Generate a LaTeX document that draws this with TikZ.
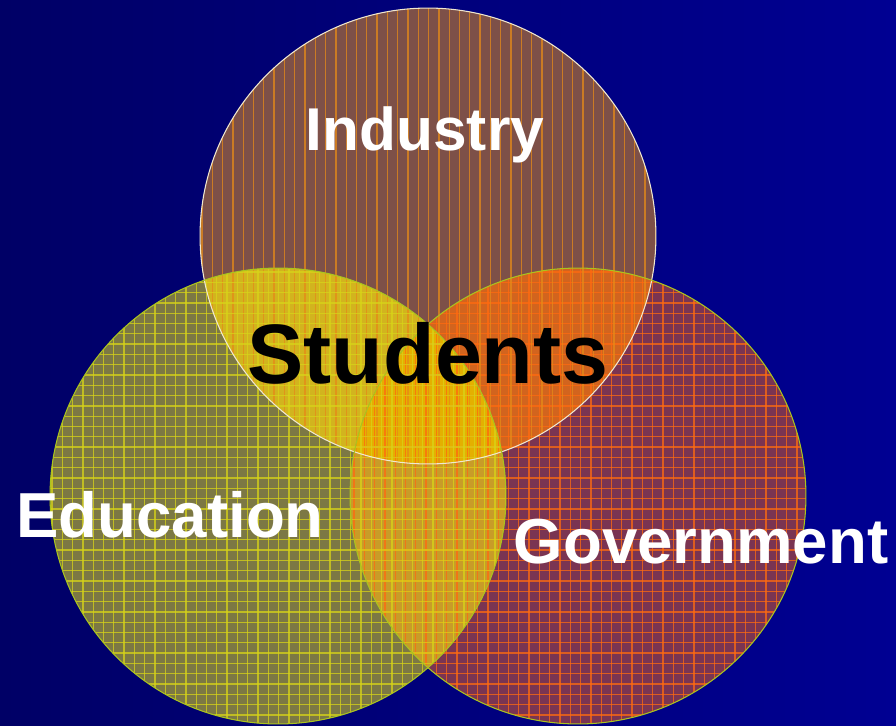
\documentclass[tikz,border=0pt]{standalone}
\usepackage{fontspec}
\setmainfont{Liberation Sans}
\definecolor{bgleft}{RGB}{0,0,102}
\definecolor{bgright}{RGB}{0,0,146}
\definecolor{indfill}{RGB}{125,80,72}
\definecolor{edufill}{RGB}{124,120,68}
\definecolor{govfill}{RGB}{122,52,82}
\definecolor{indedu}{RGB}{210,180,30}
\definecolor{indgov}{RGB}{210,100,30}
\definecolor{edugov}{RGB}{200,156,40}
\definecolor{allfill}{RGB}{228,176,0}
\definecolor{indline}{RGB}{230,138,24}
\definecolor{eduline}{RGB}{216,212,24}
\definecolor{govline}{RGB}{255,106,16}
\definecolor{rimind}{RGB}{240,232,208}
\definecolor{rimyel}{RGB}{170,196,30}
\begin{document}
\begin{tikzpicture}[x=0.02cm,y=-0.02cm,
	hatch/.style={line width=0.75pt,draw opacity=0.75},
	sector/.style={inner sep=0pt,anchor=base,text=white,font=\bfseries\fontsize{36.2}{36}\selectfont}]
	\useasboundingbox (0,0) rectangle (896,725);
	\shade[left color=bgleft,right color=bgright] (0,0) rectangle (896,725);
	\def\ind{(428,236) circle (4.56cm)}
	\def\edu{(278,496) circle (4.56cm)}
	\def\gov{(578,496) circle (4.56cm)}
	% plain fills
	\fill[indfill] \ind;
	\fill[edufill] \edu;
	\fill[govfill] \gov;
	% overlaps
	\begin{scope}
		\clip \ind;
		\fill[indedu] \edu;
		\fill[indgov] \gov;
	\end{scope}
	\begin{scope}
		\clip \edu;
		\fill[edugov] \gov;
	\end{scope}
	\begin{scope}
		\clip \ind;
		\clip \edu;
		\fill[allfill] \gov;
	\end{scope}
	% stripes and grids
	\begin{scope}
		\clip \gov;
		\foreach \k in {0,...,45}{
			\draw [hatch,color=govline] (354+\k*10.3,260)--++(0,470);
			\draw [hatch,color=govline] (340,272+\k*10.3)--++(480,0);
		}
	\end{scope}
	\begin{scope}
		\clip \ind;
		\foreach \k in {0,...,45}{
			\draw [hatch,color=indline] (202+\k*10.3,0)--++(0,470);
		}
	\end{scope}
	\begin{scope}
		\clip \edu;
		\foreach \k in {0,...,45}{
			\draw [hatch,color=eduline] (52+\k*10.3,260)--++(0,470);
			\draw [hatch,color=eduline] (40,272+\k*10.3)--++(480,0);
		}
	\end{scope}
	% rims
	\draw [color=rimind,line width=0.6pt] \ind;
	\draw [color=rimyel,line width=0.6pt] \edu;
	\draw [color=rimyel,line width=0.6pt] \gov;
	% labels
	\node [sector,font=\bfseries\fontsize{34.4}{34}\selectfont] (industry) at (425,150) {Industry};
	\node [sector] (education) at (170,537) {Education};
	\node [sector] (government) at (701,563) {Government};
	\node [sector,text=black,font=\bfseries\fontsize{48}{48}\selectfont] (students) at (428,383) {Students};
\end{tikzpicture}
\end{document}
